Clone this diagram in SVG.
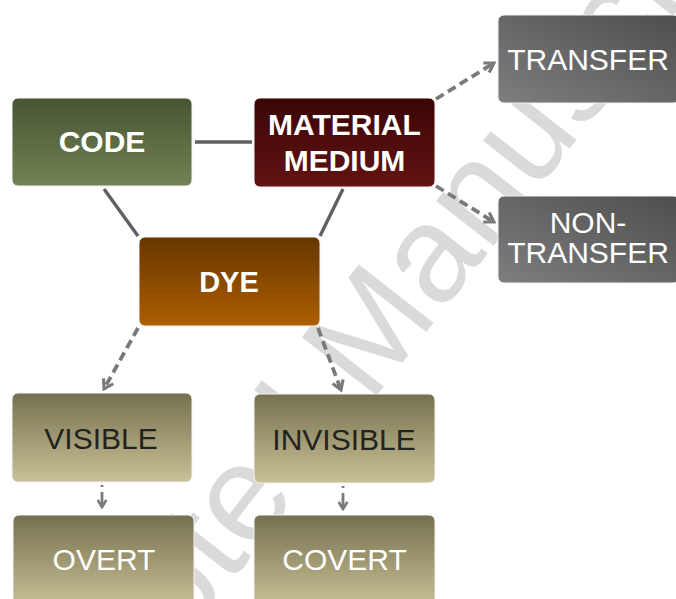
<svg xmlns="http://www.w3.org/2000/svg" width="676" height="599" viewBox="0 0 676 599">
<defs>
<linearGradient id="gGreen" x1="0" y1="0" x2="0" y2="1"><stop offset="0" stop-color="#485433"/><stop offset="1" stop-color="#718353"/></linearGradient>
<linearGradient id="gRed" x1="0" y1="0" x2="0" y2="1"><stop offset="0" stop-color="#3a0505"/><stop offset="1" stop-color="#641313"/></linearGradient>
<linearGradient id="gBrown" x1="0" y1="0" x2="0" y2="1"><stop offset="0" stop-color="#663600"/><stop offset="1" stop-color="#ad5e00"/></linearGradient>
<linearGradient id="gGray" x1="1" y1="0" x2="0" y2="1"><stop offset="0" stop-color="#4e4e4e"/><stop offset="1" stop-color="#7e7e7e"/></linearGradient>
<linearGradient id="gKhaki" x1="0" y1="0" x2="0" y2="1"><stop offset="0" stop-color="#75704f"/><stop offset="1" stop-color="#c9c196"/></linearGradient>
<marker id="arr" viewBox="0 0 10 10" refX="8" refY="5" markerWidth="14" markerHeight="14" markerUnits="userSpaceOnUse" orient="auto">
<path d="M1.5,1 L8,5 L1.5,9" fill="none" stroke="#7a7a7a" stroke-width="2.2"/>
</marker>
<marker id="arrS" viewBox="0 0 10 10" refX="8" refY="5" markerWidth="11" markerHeight="11" markerUnits="userSpaceOnUse" orient="auto">
<path d="M1.5,1 L8,5 L1.5,9" fill="none" stroke="#7a7a7a" stroke-width="2.4"/>
</marker>
</defs>
<style>
.box{stroke:#f2f2f2;stroke-width:1}
.lbl{font-family:"Liberation Sans",Arial,sans-serif;text-anchor:middle}
.b{font-weight:bold;fill:#ffffff}
.w{fill:#ffffff}
.d{fill:#222222}
.solid{stroke:#606060;stroke-width:3.4;fill:none}
.dash{stroke:#7a7a7a;stroke-width:3.8;fill:none;stroke-dasharray:9 5}
.dot{stroke:#7a7a7a;stroke-width:2.8;fill:none;stroke-dasharray:2 5 14 0}
.wm{font-family:"Liberation Sans",Arial,sans-serif;font-size:138px;fill:#dadada}
</style>
<rect width="676" height="599" fill="#ffffff"/>
<text class="wm" transform="translate(-8,888) rotate(-52)">Accepted Manuscript</text>
<g id="connectors">
<line class="solid" x1="195" y1="142" x2="252" y2="142"/>
<line class="solid" x1="104" y1="189" x2="138" y2="236"/>
<line class="solid" x1="343" y1="189" x2="320" y2="236"/>
<line class="dash" x1="436" y1="99" x2="494" y2="63" marker-end="url(#arr)"/>
<line class="dash" x1="436" y1="186" x2="494" y2="222" marker-end="url(#arr)"/>
<line class="dash" x1="138" y1="328" x2="104" y2="389" marker-end="url(#arr)"/>
<line class="dash" x1="318" y1="328" x2="341" y2="390" marker-end="url(#arr)"/>
<line class="dot" x1="102" y1="485" x2="102" y2="507" marker-end="url(#arrS)"/>
<line class="dot" x1="343" y1="486" x2="343" y2="509" marker-end="url(#arrS)"/>
</g>
<g id="code"><rect class="box" x="12" y="98" width="180" height="88" rx="6" fill="url(#gGreen)"/><text class="lbl b" x="102" y="152" font-size="30">CODE</text></g>
<g id="material"><rect class="box" x="254" y="98" width="181" height="89" rx="6" fill="url(#gRed)"/><text class="lbl b" x="344.5" y="135" font-size="30">MATERIAL</text><text class="lbl b" x="344.5" y="171" font-size="30">MEDIUM</text></g>
<g id="dye"><rect class="box" x="139" y="237" width="181" height="89" rx="6" fill="url(#gBrown)"/><text class="lbl b" x="229" y="292" font-size="29">DYE</text></g>
<g id="transfer"><rect class="box" x="498" y="15" width="181" height="88" rx="6" fill="url(#gGray)"/><text class="lbl w" x="588" y="70" font-size="30">TRANSFER</text></g>
<g id="nontransfer"><rect class="box" x="498" y="196" width="181" height="87" rx="6" fill="url(#gGray)"/><text class="lbl w" x="588" y="233" font-size="30">NON-</text><text class="lbl w" x="588" y="263" font-size="30">TRANSFER</text></g>
<g id="visible"><rect class="box" x="12" y="393" width="180" height="89" rx="6" fill="url(#gKhaki)"/><text class="lbl d" x="101" y="449" font-size="30">VISIBLE</text></g>
<g id="invisible"><rect class="box" x="254" y="394" width="181" height="89" rx="6" fill="url(#gKhaki)"/><text class="lbl d" x="344" y="450" font-size="30">INVISIBLE</text></g>
<g id="overt"><rect class="box" x="13" y="515" width="181" height="92" rx="6" fill="url(#gKhaki)"/><text class="lbl w" x="104" y="570" font-size="30">OVERT</text></g>
<g id="covert"><rect class="box" x="254" y="515" width="181" height="92" rx="6" fill="url(#gKhaki)"/><text class="lbl w" x="344.5" y="570" font-size="30">COVERT</text></g>
</svg>
